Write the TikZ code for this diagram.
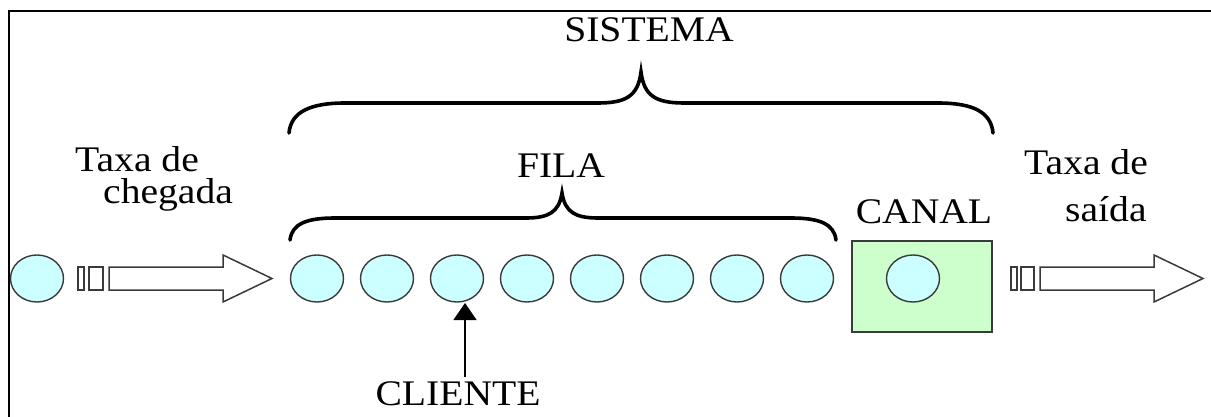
\documentclass[tikz,border=0pt]{standalone}
\usepackage{fontspec}
\setmainfont{Liberation Serif}
\newfontfamily\labelfont{Liberation Serif}[FakeStretch=1.1]
\usetikzlibrary{arrows.meta,shapes.geometric}

\definecolor{clientfill}{HTML}{CCFFFF}
\definecolor{channelfill}{HTML}{CCFFCC}
\definecolor{outline}{HTML}{3A3A3A}

\tikzset{
  client/.style={ellipse, draw=outline, line width=1.4pt, fill=clientfill,
    minimum width=53pt, minimum height=47pt, inner sep=0pt},
  channel/.style={rectangle, draw=outline, line width=1.6pt, fill=channelfill,
    minimum width=140pt, minimum height=91pt, inner sep=0pt},
  label/.style={font=\labelfont\fontsize{36}{36}\selectfont, inner sep=0pt},
  flowarrow/.style={draw=outline, line width=1.5pt, fill=white, line join=miter},
  brace/.style={draw=black, line width=3.6pt, line cap=round},
  frame/.style={draw=black, line width=2.6pt},
  pointer/.style={draw=black, line width=1.2pt, -{Triangle[length=17pt,width=23pt]}}
}

\begin{document}
\begin{tikzpicture}[x=1pt,y=-1pt]
  \useasboundingbox (0,0) rectangle (1211,417);

  % frame lines
  \draw[frame] (9,417) -- (9,11) -- (1211,11);

  % arriving client and its inflow arrow
  \node[client] (c0) at (37,278.5) {};
  \draw[flowarrow] (78,267) rectangle (84,290);
  \draw[flowarrow] (89,267) rectangle (103,290);
  \draw[flowarrow] (109,267) -- (223,267) -- (223,255) -- (272,278.5)
    -- (223,302) -- (223,290) -- (109,290) -- cycle;

  % queue
  \foreach \i in {1,...,8} {
    \node[client] (q\i) at ({317+70*(\i-1)},278.5) {};
  }

  % service channel
  \node[channel] (canal) at (922,286.5) {};
  \node[client] (cs) at (913,278.5) {};

  % outflow arrow
  \draw[flowarrow] (1011,267) rectangle (1017,290);
  \draw[flowarrow] (1021,267) rectangle (1034,290);
  \draw[flowarrow] (1040,267) -- (1154,267) -- (1154,255) -- (1203,278.5)
    -- (1154,302) -- (1154,290) -- (1040,290) -- cycle;

  % labels
  \node[label, anchor=base] (sistema) at (649,42) {SISTEMA};
  \node[label, anchor=base] (fila) at (561,178) {FILA};
  \node[label, anchor=base] (canallbl) at (924,223) {CANAL};
  \node[label, anchor=base west, text depth=0pt] (inA) at (75,172) {Taxa de};
  \node[label, anchor=base west] (inB) at (103,204) {chegada};
  \node[label, anchor=base west, text depth=0pt] (outA) at (1024,175) {Taxa de};
  \node[label, anchor=base west] (outB) at (1065,222) {saída};
  \node[label, anchor=base] (cliente) at (458,405) {CLIENTE};

  % pointer to a client
  \coordinate (ptail) at (465,377);
  \coordinate (phead) at (465,303);
  \draw[pointer] (ptail) -- (phead);

  % brace over the whole system
  \draw[brace] (289,133) .. controls (291,112) and (310,103) .. (345,103)
    -- (598,103) .. controls (626,103) and (638,96) .. (641,72)
    .. controls (644,96) and (656,103) .. (684,103)
    -- (938,103) .. controls (973,103) and (991,112) .. (993,133);

  % brace over the queue
  \draw[brace] (290,240) .. controls (292,224) and (306,218) .. (335,218)
    -- (526,218) .. controls (549,218) and (559,212) .. (562,193)
    .. controls (565,212) and (575,218) .. (598,218)
    -- (791,218) .. controls (820,218) and (834,224) .. (836,240);
\end{tikzpicture}
\end{document}
